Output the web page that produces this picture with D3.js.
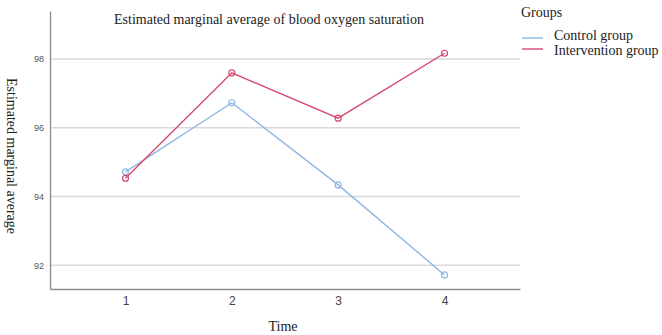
<!DOCTYPE html>
<html><head><meta charset="utf-8">
<script src="https://cdn.jsdelivr.net/npm/d3@7"></script>
<style>body{margin:0;background:#fff}svg{display:block}</style>
</head><body>
<svg id="c" width="662" height="335"></svg>
<script>
const times = ["1","2","3","4"];
const groups = ["Control group","Intervention group"];
const control = [94.72, 96.73, 94.34, 91.72];
const intervention = [94.53, 97.60, 96.28, 98.17];
const yTicks = [92, 94, 96, 98];
const colors = ["#8fb6e3", "#d5496f"];

const svg = d3.select("#c");
const L = 50, R = 520, T = 11, B = 289;
const x = d3.scalePoint().domain(times).range([L, R]).padding(0.71);
const y = d3.scaleLinear().domain([91.31, 99.4]).range([B, T]);

// gridlines
svg.append("g").selectAll("line").data(yTicks).join("line")
  .attr("x1", L).attr("x2", R).attr("y1", d => y(d)).attr("y2", d => y(d))
  .attr("stroke", "#d9d9d9").attr("stroke-width", 1.5);

// y axis
const ya = svg.append("g").attr("transform", `translate(${L},0)`)
  .call(d3.axisLeft(y).tickValues(yTicks).tickSize(0).tickPadding(6));
ya.select(".domain").attr("stroke", "#8c8c8c").attr("stroke-width", 1.3);
ya.selectAll("text").attr("font-family", "Liberation Sans, Arial, sans-serif")
  .attr("font-size", 9).attr("fill", "#555");

// x axis
const xa = svg.append("g").attr("transform", `translate(0,${B})`)
  .call(d3.axisBottom(x).tickSize(0).tickPadding(7));
xa.select(".domain").attr("stroke", "#8c8c8c").attr("stroke-width", 1.3);
xa.selectAll("text").attr("font-family", "Liberation Sans, Arial, sans-serif")
  .attr("font-size", 12).attr("fill", "#444");

// lines
const series = [control, intervention];
const line = d3.line().x((d, i) => x(times[i])).y(d => y(d));
series.forEach((s, k) => {
  svg.append("path").datum(s).attr("d", line).attr("fill", "none")
    .attr("stroke", colors[k]).attr("stroke-width", 1.4);
  svg.append("g").selectAll("circle").data(s).join("circle")
    .attr("cx", (d, i) => x(times[i])).attr("cy", d => y(d)).attr("r", 3)
    .attr("fill", "none").attr("stroke", colors[k]).attr("stroke-width", 1.2);
});

const serif = "Liberation Serif, Times New Roman, serif";
// title
svg.append("text").attr("x", 269).attr("y", 24).attr("text-anchor", "middle")
  .attr("font-family", serif).attr("font-size", 14).attr("fill", "#222")
  .text("Estimated marginal average of blood oxygen saturation");
// axis titles
svg.append("text").attr("x", 283).attr("y", 331).attr("text-anchor", "middle")
  .attr("font-family", serif).attr("font-size", 14).attr("fill", "#222").text("Time");
svg.append("text").attr("transform", "translate(11,156) rotate(90)").attr("text-anchor", "middle")
  .attr("font-family", serif).attr("font-size", 14).attr("fill", "#222")
  .attr("dominant-baseline", "central")
  .text("Estimated marginal average");

// legend
svg.append("text").attr("x", 521).attr("y", 17).attr("font-family", serif)
  .attr("font-size", 14).attr("fill", "#222").text("Groups");
groups.forEach((g, k) => {
  const ly = 38 + k * 11;
  const ty = 39.5 + k * 15.5;
  svg.append("line").attr("x1", 522).attr("x2", 543).attr("y1", ly).attr("y2", ly)
    .attr("stroke", colors[k]).attr("stroke-width", 1.4);
  svg.append("text").attr("x", 554).attr("y", ty).attr("font-family", serif)
    .attr("font-size", 14).attr("fill", "#222").text(g);
});
</script>
</body></html>
